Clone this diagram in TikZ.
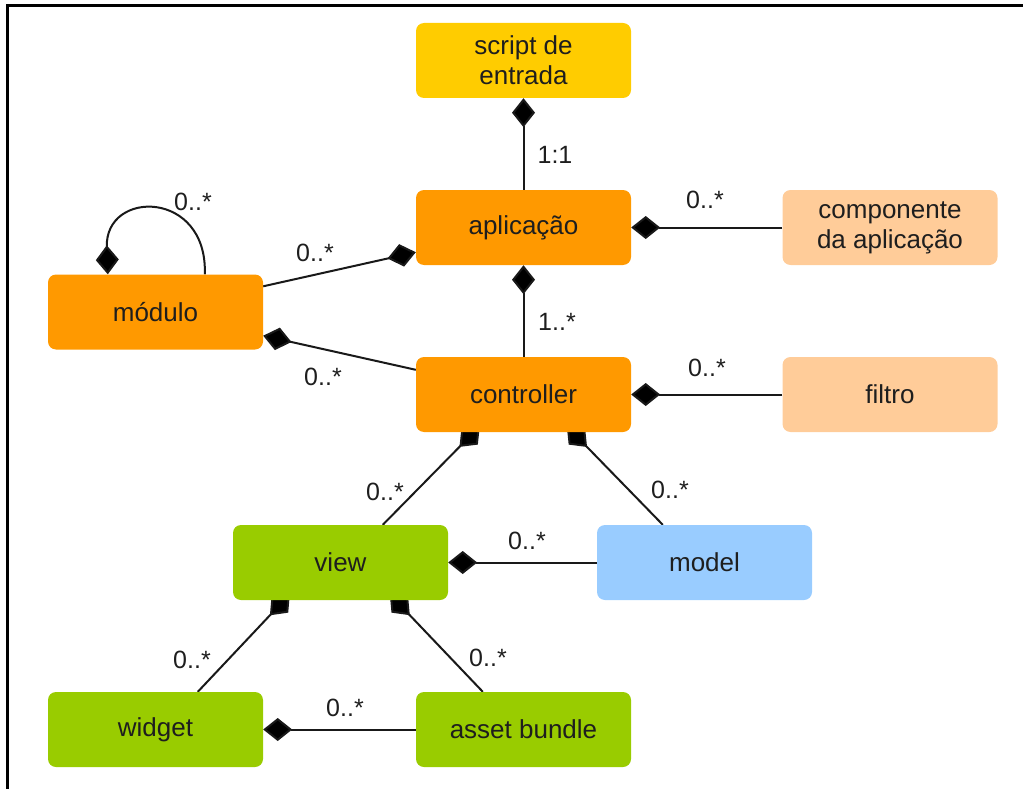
\documentclass[tikz,border=0pt]{standalone}
\usepackage{fontspec}
\setmainfont{Liberation Sans}
\usetikzlibrary{arrows.meta,calc,backgrounds}
\definecolor{cyellow}{HTML}{FFCC00}
\definecolor{corange}{HTML}{FF9900}
\definecolor{cpeach}{HTML}{FFCC99}
\definecolor{cgreen}{HTML}{99CC00}
\definecolor{cblue}{HTML}{99CCFF}
\definecolor{ctext}{HTML}{1E1E1E}
\tikzset{
  box/.style={rounded corners=8pt, minimum width=215pt, minimum height=75pt,
    inner sep=0pt, align=center, text=ctext,
    font=\fontsize{26}{30}\selectfont},
  lbl/.style={text=ctext, inner sep=0pt, font=\fontsize{25}{28}\selectfont},
  comp/.style={line width=2pt, draw=black!90,
    -{Diamond[length=29pt, width=23pt, fill=black]}},
  frame/.style={line width=3pt, draw=black}
}
\begin{document}
\begin{tikzpicture}[x=1pt, y=-1pt]
\useasboundingbox (0,0) rectangle (1023,789);

% outer frame (top and left sides)
\draw[frame] (7,789) -- (7,6) -- (1023,6);

% classes
\node[box, fill=cyellow] (script) at (523.5,60.5) {script de\\entrada};
\node[box, fill=corange] (app) at (523.5,227.5) {aplicação};
\node[box, fill=cpeach] (compo) at (890,227.5) {componente\\da aplicação};
\node[box, fill=corange] (mod) at (155.5,312) {módulo};
\node[box, fill=corange] (ctrl) at (523.5,394.5) {controller};
\node[box, fill=cpeach] (filtro) at (890,394.5) {filtro};
\node[box, fill=cgreen] (view) at (340.5,562.5) {view};
\node[box, fill=cblue] (model) at (704.5,562.5) {model};
\node[box, fill=cgreen] (widget) at (155.5,729.5) {widget};
\node[box, fill=cgreen] (asset) at (523.5,729.5) {asset bundle};

% compositions (diamond on the owning class)
\begin{pgfonlayer}{background}
\draw[comp] (app.north) -- (script.south);
\draw[comp] (compo.west) -- (app.east);
\draw[comp] ($(mod.north east)+(0,12)$) -- ($(app.south west)+(0,-13)$);
\draw[comp] (ctrl.north) -- (app.south);
\draw[comp] ($(ctrl.north west)+(0,13)$) -- ($(mod.south east)+(0,-14)$);
\draw[comp] (filtro.west) -- (ctrl.east);
\draw[comp] ($(view.north west)+(150,0)$) -- ($(ctrl.south west)+(64,-6)$);
\draw[comp] ($(model.north west)+(66,0)$) -- ($(ctrl.south west)+(151,-6)$);
\draw[comp] (model.west) -- (view.east);
\draw[comp] ($(widget.north west)+(150,0)$) -- ($(view.south west)+(57,-6)$);
\draw[comp] ($(asset.north west)+(67,0)$) -- ($(view.south west)+(157,-6)$);
\draw[comp] (asset.west) -- (widget.east);
\draw[comp] ($(mod.north west)+(157,0)$) .. controls ($(mod.north west)+(160,-85)$) and ($(mod.north west)+(57,-85)$) .. ($(mod.north west)+(60,0)$);
\end{pgfonlayer}

% multiplicities
\node[lbl] (m1) at (555,155) {1:1};
\node[lbl] (m2) at (705,200) {0..*};
\node[lbl] (m3) at (315,253) {0..*};
\node[lbl] (m4) at (557,322) {1..*};
\node[lbl] (m5) at (323,377) {0..*};
\node[lbl] (m6) at (707,368) {0..*};
\node[lbl] (m7) at (385,492) {0..*};
\node[lbl] (m8) at (670,490) {0..*};
\node[lbl] (m9) at (527,541) {0..*};
\node[lbl] (m10) at (192,660) {0..*};
\node[lbl] (m11) at (488,658) {0..*};
\node[lbl] (m12) at (345,708) {0..*};
\node[lbl] (m13) at (193,202) {0..*};
\end{tikzpicture}
\end{document}
